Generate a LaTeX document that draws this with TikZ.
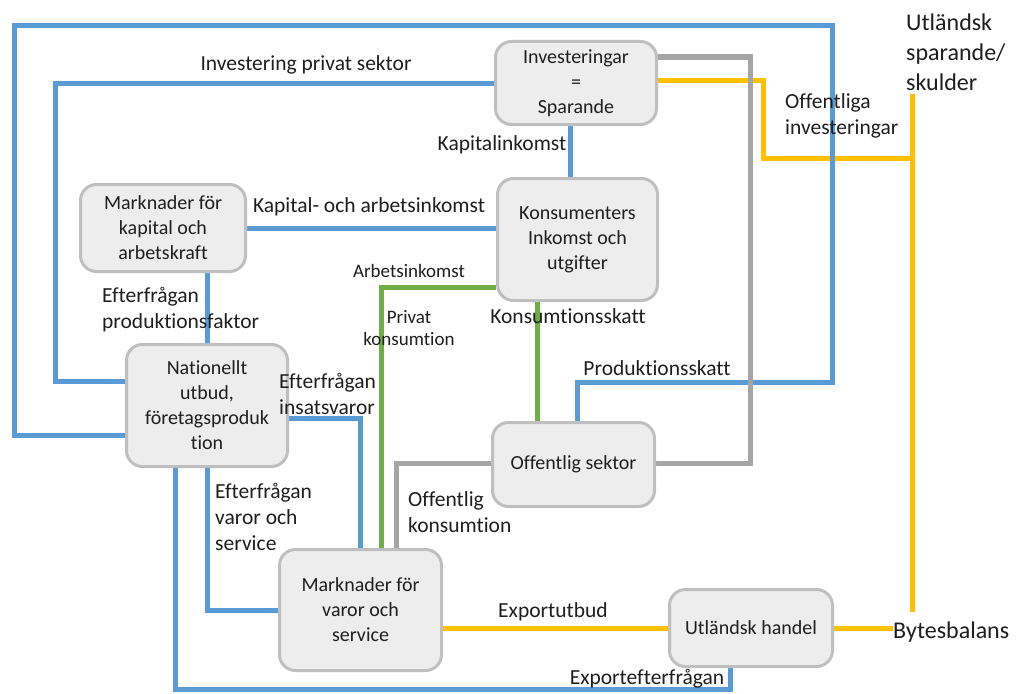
\documentclass[tikz,border=0pt]{standalone}
\usepackage{fontspec}
\setmainfont{Carlito}[Ligatures={NoCommon}]
\usetikzlibrary{calc}
\definecolor{flowblue}{HTML}{5B9BD5}
\definecolor{flowgray}{HTML}{A5A5A5}
\definecolor{flowgreen}{HTML}{70AD47}
\definecolor{flowyellow}{HTML}{FFC000}
\definecolor{boxfill}{HTML}{EDEDED}
\definecolor{boxline}{HTML}{BFBFBF}
\definecolor{ink}{HTML}{1E1E1E}
\pgfdeclarelayer{bg}
\pgfsetlayers{bg,main}
\tikzset{
  box/.style={draw=boxline, fill=boxfill, line width=3pt, rounded corners=16pt,
    align=center, inner sep=0pt, text=ink, font=\fontsize{20}{25}\selectfont},
  flow/.style={line width=5pt},
  fb/.style={flow, draw=flowblue},
  fg/.style={flow, draw=flowgray},
  fgr/.style={flow, draw=flowgreen},
  fy/.style={flow, draw=flowyellow},
  lab/.style={text=ink, inner sep=0pt, font=\fontsize{21.5}{26}\selectfont},
  smalllab/.style={text=ink, inner sep=0pt, font=\fontsize{19}{22}\selectfont},
  biglab/.style={text=ink, inner sep=0pt, font=\fontsize{24}{30}\selectfont},
}
\begin{document}
\begin{tikzpicture}[x=1pt,y=-1pt]
\useasboundingbox (0,0) rectangle (1016,693);

% sectors of the economy
\node[box, minimum width=161pt, minimum height=83pt] (inv) at (576,83) {Investeringar\\=\\Sparande};
\node[box, minimum width=160pt, minimum height=122pt] (kons) at (577.5,239.5) {Konsumenters\\Inkomst och\\utgifter};
\node[box, minimum width=165pt, minimum height=87pt] (mkap) at (163,228) {Marknader för\\kapital och\\arbetskraft};
\node[box, minimum width=161pt, minimum height=122pt] (nat) at (207,405.5) {Nationellt\\utbud,\\företagsproduk\\tion};
\node[box, minimum width=162pt, minimum height=84pt] (off) at (573.5,464.5) {Offentlig sektor};
\node[box, minimum width=162pt, minimum height=121pt] (mvar) at (360.5,610) {Marknader för\\varor och\\service};
\node[box, minimum width=163pt, minimum height=77pt] (utl) at (751,628) {Utländsk handel};

% free labels on the right
\node[biglab, anchor=west, align=left] (sparande) at (906,52) {Utländsk\\sparande/\\skulder};
\node[biglab, anchor=west] (bytes) at (893,632) {Bytesbalans};
\coordinate (ytop) at (912,94);
\coordinate (ybot) at (912,612);

\begin{pgfonlayer}{bg}
  % yellow: foreign sector
  \draw[fy] (inv.east |- 0,80) -| (763,158) -- (ytop |- 0,158);
  \draw[fy] (ytop) -- (ybot);
  \draw[fy] (mvar.east |- utl.west) -- (utl.west);
  \draw[fy] (utl.east) -- (bytes.west |- utl.east);
  % blue: private flows
  \draw[fb] (off.north -| 577,0) -- (577,382) -- (832,382) -- (832,26) -- (14,26) -- (14,435) -- (nat.west |- 0,435);
  \draw[fb] (inv.west) -| (55,381) -- (nat.west |- 0,381);
  \draw[fb] (inv.south -| 570,0) -- (kons.north -| 570,0);
  \draw[fb] (mkap.east) -- (kons.west |- mkap.east);
  \draw[fb] (mkap.south -| nat.north) -- (nat.north);
  \draw[fb] (nat.east |- 0,418) -| (mvar.north);
  \draw[fb] (nat.south) |- (mvar.west);
  \draw[fb] (nat.south -| 175,0) -- (175,689) -| (utl.south -| 730,0);
  % gray: public sector
  \draw[fg] (inv.east |- 0,57) -| (750,463) -- (off.east |- 0,463);
  \draw[fg] (off.west |- 0,463) -| (mvar.north -| 396,0);
  % green: households
  \draw[fgr] (kons.west |- 0,287) -| (mvar.north -| 381,0);
  \draw[fgr] (kons.south -| 537,0) -- (off.north -| 537,0);
\end{pgfonlayer}

% flow labels
\node[lab] (l1) at (306,65) {Investering privat sektor};
\node[lab] (l2) at (502,145) {Kapitalinkomst};
\node[lab] (l3) at (369,207) {Kapital- och arbetsinkomst};
\node[smalllab] (l4) at (409,271) {Arbetsinkomst};
\node[smalllab, align=center] (l5) at (409,328.5) {Privat\\konsumtion};
\node[lab] (l6) at (568,316) {Konsumtionsskatt};
\node[lab, anchor=west, align=left] (l7) at (102,310) {Efterfrågan\\produktionsfaktor};
\node[lab, anchor=west, align=left] (l8) at (279,394) {Efterfrågan\\insatsvaror};
\node[lab] (l9) at (657,368) {Produktionsskatt};
\node[lab, anchor=west, align=left] (l10) at (215,517) {Efterfrågan\\varor och\\service};
\node[lab, anchor=west, align=left] (l11) at (408,512) {Offentlig\\konsumtion};
\node[lab, anchor=west, align=left] (l12) at (785,116) {Offentliga\\investeringar};
\node[lab] (l13) at (553,612) {Exportutbud};
\node[lab] (l14) at (647,679) {Exportefterfrågan};
\end{tikzpicture}
\end{document}
